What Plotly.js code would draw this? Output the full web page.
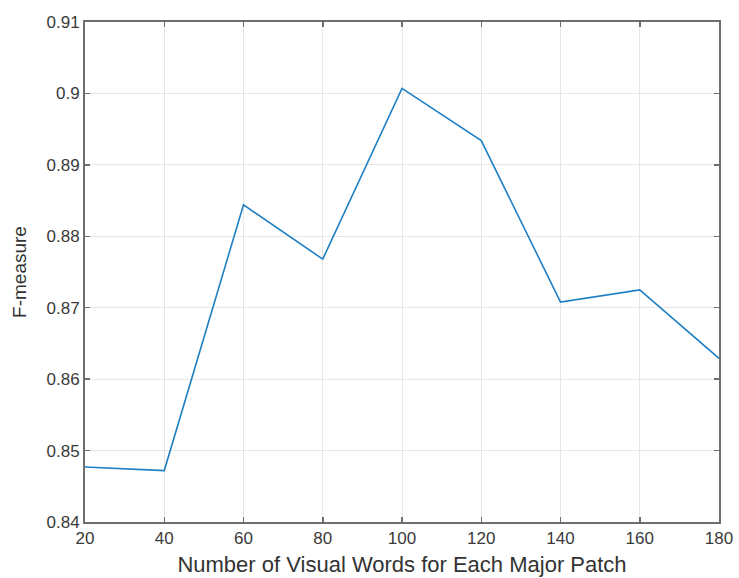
<!DOCTYPE html>
<html>
<head>
<meta charset="utf-8">
<script src="https://cdn.plot.ly/plotly-3.0.1.min.js"></script>
<style>
  html, body { margin: 0; padding: 0; background: #fff; }
  #chart { width: 739px; height: 578px; }
</style>
</head>
<body>
<div id="chart"></div>
<script>
// Number of visual words per major patch vs. F-measure
const visualWords = [20, 40, 60, 80, 100, 120, 140, 160, 180];
const fMeasure = [0.8477, 0.8472, 0.8844, 0.8768, 0.9007, 0.8934, 0.8708, 0.8725, 0.8629];

const xTicks = [20, 40, 60, 80, 100, 120, 140, 160, 180];
const yTicks = [0.84, 0.85, 0.86, 0.87, 0.88, 0.89, 0.9, 0.91];
const yTickText = ['0.84', '0.85', '0.86', '0.87', '0.88', '0.89', '0.9', '0.91'];

const axisColor = '#6e6e6e';
const font = 'Liberation Sans, Arial, Helvetica, sans-serif';

const trace = {
  x: visualWords,
  y: fMeasure,
  type: 'scatter',
  mode: 'lines',
  line: { color: '#1f7fc4', width: 1.6 },
  hoverinfo: 'x+y'
};

const axisCommon = {
  showline: true,
  linecolor: axisColor,
  linewidth: 2,
  mirror: 'ticks',
  ticks: 'inside',
  ticklen: 5,
  tickwidth: 1.5,
  tickcolor: axisColor,
  showgrid: true,
  gridcolor: '#e6e6e6',
  gridwidth: 1,
  zeroline: false,
  tickfont: { family: font, size: 17, color: '#3a3a3a' }
};

const layout = {
  width: 739,
  height: 578,
  margin: { l: 85, r: 20, t: 22, b: 56 },
  paper_bgcolor: '#ffffff',
  plot_bgcolor: '#ffffff',
  showlegend: false,
  xaxis: Object.assign({}, axisCommon, {
    range: [20, 180],
    tickmode: 'array',
    tickvals: xTicks,
    ticktext: xTicks.map(String),
    title: {
      text: 'Number of Visual Words for Each Major Patch',
      font: { family: font, size: 22, color: '#333333' },
      standoff: 9
    }
  }),
  yaxis: Object.assign({}, axisCommon, {
    range: [0.84, 0.91],
    tickmode: 'array',
    tickvals: yTicks,
    ticktext: yTickText,
    title: {
      text: 'F-measure',
      font: { family: font, size: 19, color: '#333333' },
      standoff: 15
    }
  })
};

Plotly.newPlot('chart', [trace], layout, { displayModeBar: false, staticPlot: true });
</script>
</body>
</html>
